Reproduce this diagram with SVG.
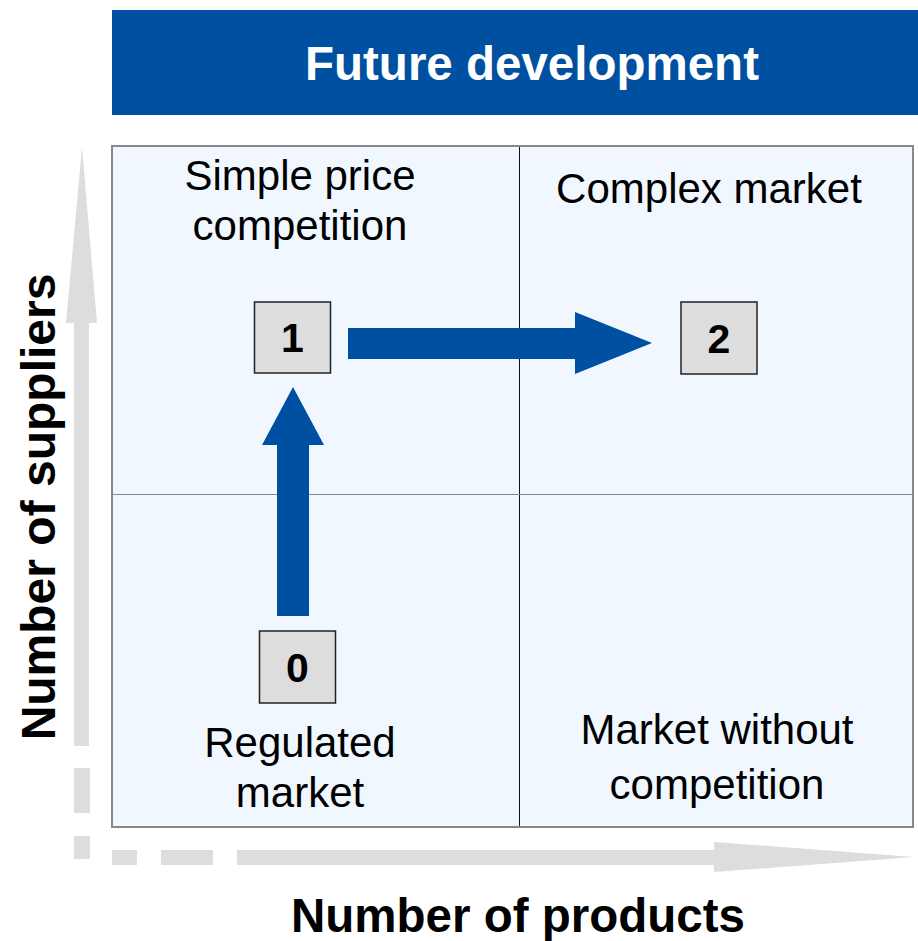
<svg xmlns="http://www.w3.org/2000/svg" width="918" height="941" viewBox="0 0 918 941">
<style>
.lbl{font-family:"Liberation Sans",Arial,sans-serif;font-size:42px;fill:#000;text-anchor:middle}
.bold{font-family:"Liberation Sans",Arial,sans-serif;font-weight:bold;text-anchor:middle}
.num{fill:#dddddd;stroke:#222;stroke-width:1.5}
.axis{fill:#dddddd}
.flow{fill:#0050a2}
</style>
<rect width="918" height="941" fill="#fff"/>
<g id="header">
<rect x="112" y="10" width="806" height="105" fill="#0050a2"/>
<text class="bold" x="532" y="80" font-size="47.5" fill="#fff">Future development</text>
</g>
<g id="matrix">
<rect x="112" y="146" width="801" height="681" fill="#f0f7ff" stroke="#888" stroke-width="2"/>
<line x1="519.5" y1="147" x2="519.5" y2="826" stroke="#111" stroke-width="1"/>
<line x1="113" y1="494.5" x2="912" y2="494.5" stroke="#888" stroke-width="1"/>
</g>
<g id="axes">
<polygon class="axis" points="74,746 74,323 66,323 82,147 97,323 89,323 89,746"/>
<rect class="axis" x="74" y="768" width="16" height="45"/>
<rect class="axis" x="74" y="836" width="16" height="23"/>
<rect class="axis" x="112" y="850" width="25" height="15"/>
<rect class="axis" x="161" y="850" width="52" height="15"/>
<polygon class="axis" points="237,850 714,850 714,842 914,857 714,872 714,865 237,865"/>
</g>
<g id="labels">
<text class="lbl" x="300" y="190">Simple price</text>
<text class="lbl" x="300" y="240">competition</text>
<text class="lbl" x="709" y="203">Complex market</text>
<text class="lbl" x="300" y="757">Regulated</text>
<text class="lbl" x="300" y="807">market</text>
<text class="lbl" x="717" y="744">Market without</text>
<text class="lbl" x="717" y="799">competition</text>
<text class="bold" x="518" y="932" font-size="47.5">Number of products</text>
<text class="bold" transform="translate(55,507) rotate(-90)" font-size="48">Number of suppliers</text>
</g>
<g id="connectors">
<polygon class="flow" points="277,616 277,445 262,445 293,387 324,445 309,445 309,616"/>
<polygon class="flow" points="348,328 575,328 575,312 652,343 575,374 575,359 348,359"/>
</g>
<g id="node0">
<rect class="num" x="259.5" y="631" width="76" height="72"/>
<text class="bold" x="297.5" y="682" font-size="41">0</text>
</g>
<g id="node1">
<rect class="num" x="254.5" y="302" width="76" height="71"/>
<text class="bold" x="292.5" y="352" font-size="41">1</text>
</g>
<g id="node2">
<rect class="num" x="681" y="302" width="76" height="72"/>
<text class="bold" x="719" y="353" font-size="41">2</text>
</g>
</svg>
